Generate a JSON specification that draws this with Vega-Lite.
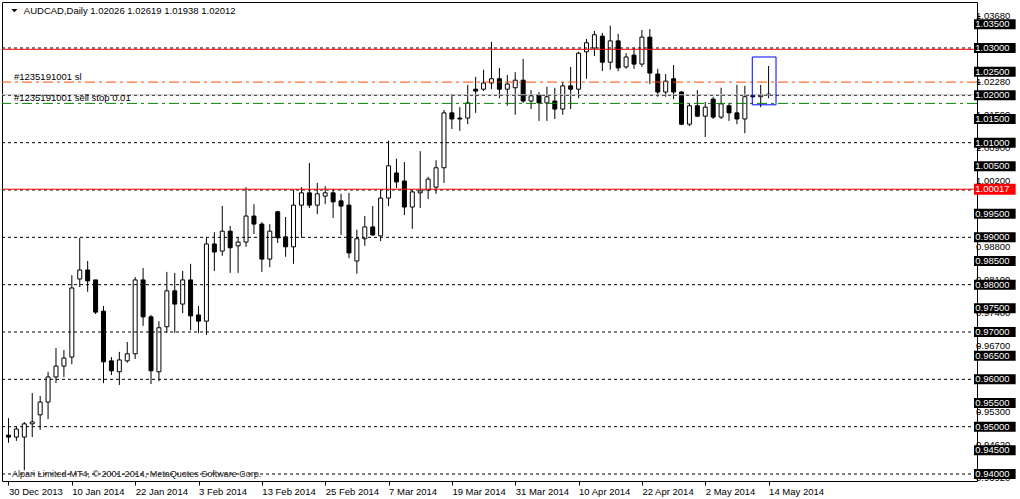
{
  "$schema": "https://vega.github.io/schema/vega-lite/v6.json",
  "width": 975,
  "height": 479,
  "autosize": {"type": "none"},
  "padding": {"left": 2, "top": 2, "right": 43, "bottom": 18},
  "background": "white",
  "config": {"view": {"stroke": "black", "strokeWidth": 1}, "axis": {"domain": false, "grid": false}},
  "data": {"values": [{}]},
  "datasets": {
    "candles": [
      {"i":0,"d":"2013-12-30","o":0.9482,"h":0.9518,"l":0.9466,"c":0.9478},
      {"i":1,"d":"2013-12-31","o":0.9478,"h":0.9501,"l":0.9470,"c":0.9495},
      {"i":2,"d":"2014-01-02","o":0.9478,"h":0.9510,"l":0.9408,"c":0.9506},
      {"i":3,"d":"2014-01-03","o":0.9506,"h":0.9571,"l":0.9478,"c":0.9510},
      {"i":4,"d":"2014-01-06","o":0.9525,"h":0.9565,"l":0.9493,"c":0.9552},
      {"i":5,"d":"2014-01-07","o":0.9552,"h":0.9616,"l":0.9516,"c":0.9605},
      {"i":6,"d":"2014-01-08","o":0.9605,"h":0.9666,"l":0.9592,"c":0.9628},
      {"i":7,"d":"2014-01-09","o":0.9628,"h":0.9662,"l":0.9605,"c":0.9645},
      {"i":8,"d":"2014-01-10","o":0.9647,"h":0.9820,"l":0.9632,"c":0.9793},
      {"i":9,"d":"2014-01-13","o":0.9812,"h":0.9899,"l":0.9795,"c":0.9831},
      {"i":10,"d":"2014-01-14","o":0.9831,"h":0.9850,"l":0.9785,"c":0.9808},
      {"i":11,"d":"2014-01-15","o":0.9810,"h":0.9810,"l":0.9738,"c":0.9742},
      {"i":12,"d":"2014-01-16","o":0.9744,"h":0.9755,"l":0.9592,"c":0.9637},
      {"i":13,"d":"2014-01-17","o":0.9639,"h":0.9647,"l":0.9609,"c":0.9618},
      {"i":14,"d":"2014-01-20","o":0.9616,"h":0.9658,"l":0.9588,"c":0.9641},
      {"i":15,"d":"2014-01-21","o":0.9639,"h":0.9679,"l":0.9635,"c":0.9654},
      {"i":16,"d":"2014-01-22","o":0.9654,"h":0.9816,"l":0.9643,"c":0.9810},
      {"i":17,"d":"2014-01-23","o":0.9810,"h":0.9835,"l":0.9713,"c":0.9732},
      {"i":18,"d":"2014-01-24","o":0.9732,"h":0.9736,"l":0.9590,"c":0.9618},
      {"i":19,"d":"2014-01-27","o":0.9616,"h":0.9723,"l":0.9596,"c":0.9709},
      {"i":20,"d":"2014-01-28","o":0.9711,"h":0.9827,"l":0.9698,"c":0.9787},
      {"i":21,"d":"2014-01-29","o":0.9787,"h":0.9825,"l":0.9698,"c":0.9759},
      {"i":22,"d":"2014-01-30","o":0.9759,"h":0.9829,"l":0.9740,"c":0.9810},
      {"i":23,"d":"2014-01-31","o":0.9810,"h":0.9844,"l":0.9704,"c":0.9734},
      {"i":24,"d":"2014-02-03","o":0.9736,"h":0.9755,"l":0.9698,"c":0.9723},
      {"i":25,"d":"2014-02-04","o":0.9723,"h":0.9899,"l":0.9694,"c":0.9886},
      {"i":26,"d":"2014-02-05","o":0.9886,"h":0.9911,"l":0.9829,"c":0.9869},
      {"i":27,"d":"2014-02-06","o":0.9871,"h":0.9966,"l":0.9861,"c":0.9913},
      {"i":28,"d":"2014-02-07","o":0.9913,"h":0.9924,"l":0.9825,"c":0.9878},
      {"i":29,"d":"2014-02-10","o":0.9882,"h":0.9899,"l":0.9825,"c":0.9890},
      {"i":30,"d":"2014-02-11","o":0.9890,"h":1.0006,"l":0.9880,"c":0.9945},
      {"i":31,"d":"2014-02-12","o":0.9945,"h":0.9970,"l":0.9907,"c":0.9928},
      {"i":32,"d":"2014-02-13","o":0.9928,"h":0.9932,"l":0.9827,"c":0.9854},
      {"i":33,"d":"2014-02-14","o":0.9854,"h":0.9928,"l":0.9837,"c":0.9913},
      {"i":34,"d":"2014-02-17","o":0.9954,"h":0.9956,"l":0.9888,"c":0.9899},
      {"i":35,"d":"2014-02-18","o":0.9901,"h":0.9943,"l":0.9859,"c":0.9880},
      {"i":36,"d":"2014-02-19","o":0.9880,"h":1.0000,"l":0.9844,"c":0.9968},
      {"i":37,"d":"2014-02-20","o":0.9968,"h":1.0006,"l":0.9899,"c":0.9994},
      {"i":38,"d":"2014-02-21","o":0.9994,"h":1.0057,"l":0.9962,"c":0.9968},
      {"i":39,"d":"2014-02-24","o":0.9968,"h":1.0015,"l":0.9949,"c":0.9992},
      {"i":40,"d":"2014-02-25","o":0.9987,"h":1.0008,"l":0.9970,"c":0.9994},
      {"i":41,"d":"2014-02-26","o":0.9994,"h":1.0002,"l":0.9941,"c":0.9975},
      {"i":42,"d":"2014-02-27","o":0.9977,"h":0.9992,"l":0.9905,"c":0.9966},
      {"i":43,"d":"2014-02-28","o":0.9968,"h":0.9994,"l":0.9856,"c":0.9867},
      {"i":44,"d":"2014-03-03","o":0.9850,"h":0.9916,"l":0.9823,"c":0.9897},
      {"i":45,"d":"2014-03-04","o":0.9897,"h":0.9945,"l":0.9882,"c":0.9922},
      {"i":46,"d":"2014-03-05","o":0.9922,"h":0.9966,"l":0.9903,"c":0.9905},
      {"i":47,"d":"2014-03-06","o":0.9903,"h":1.0000,"l":0.9892,"c":0.9983},
      {"i":48,"d":"2014-03-07","o":0.9983,"h":1.0104,"l":0.9966,"c":1.0051},
      {"i":49,"d":"2014-03-10","o":1.0036,"h":1.0066,"l":1.0004,"c":1.0017},
      {"i":50,"d":"2014-03-11","o":1.0019,"h":1.0059,"l":0.9947,"c":0.9964},
      {"i":51,"d":"2014-03-12","o":0.9964,"h":1.0000,"l":0.9918,"c":0.9996},
      {"i":52,"d":"2014-03-13","o":0.9994,"h":1.0082,"l":0.9962,"c":0.9998},
      {"i":53,"d":"2014-03-14","o":1.0000,"h":1.0028,"l":0.9981,"c":1.0023},
      {"i":54,"d":"2014-03-17","o":1.0006,"h":1.0063,"l":0.9992,"c":1.0047},
      {"i":55,"d":"2014-03-18","o":1.0047,"h":1.0169,"l":1.0015,"c":1.0163},
      {"i":56,"d":"2014-03-19","o":1.0163,"h":1.0203,"l":1.0129,"c":1.0150},
      {"i":57,"d":"2014-03-20","o":1.0152,"h":1.0175,"l":1.0125,"c":1.0150},
      {"i":58,"d":"2014-03-21","o":1.0152,"h":1.0222,"l":1.0139,"c":1.0184},
      {"i":59,"d":"2014-03-24","o":1.0213,"h":1.0239,"l":1.0163,"c":1.0209},
      {"i":60,"d":"2014-03-25","o":1.0213,"h":1.0254,"l":1.0209,"c":1.0226},
      {"i":61,"d":"2014-03-26","o":1.0226,"h":1.0313,"l":1.0213,"c":1.0235},
      {"i":62,"d":"2014-03-27","o":1.0235,"h":1.0258,"l":1.0194,"c":1.0213},
      {"i":63,"d":"2014-03-28","o":1.0213,"h":1.0243,"l":1.0178,"c":1.0224},
      {"i":64,"d":"2014-03-31","o":1.0216,"h":1.0249,"l":1.0159,"c":1.0232},
      {"i":65,"d":"2014-04-01","o":1.0232,"h":1.0277,"l":1.0184,"c":1.0188},
      {"i":66,"d":"2014-04-02","o":1.0188,"h":1.0211,"l":1.0171,"c":1.0199},
      {"i":67,"d":"2014-04-03","o":1.0201,"h":1.0207,"l":1.0146,"c":1.0184},
      {"i":68,"d":"2014-04-04","o":1.0184,"h":1.0218,"l":1.0146,"c":1.0197},
      {"i":69,"d":"2014-04-07","o":1.0188,"h":1.0216,"l":1.0150,"c":1.0171},
      {"i":70,"d":"2014-04-08","o":1.0171,"h":1.0228,"l":1.0159,"c":1.0220},
      {"i":71,"d":"2014-04-09","o":1.0220,"h":1.0260,"l":1.0171,"c":1.0213},
      {"i":72,"d":"2014-04-10","o":1.0213,"h":1.0292,"l":1.0194,"c":1.0289},
      {"i":73,"d":"2014-04-11","o":1.0292,"h":1.0319,"l":1.0235,"c":1.0311},
      {"i":74,"d":"2014-04-14","o":1.0300,"h":1.0336,"l":1.0283,"c":1.0328},
      {"i":75,"d":"2014-04-15","o":1.0325,"h":1.0332,"l":1.0251,"c":1.0270},
      {"i":76,"d":"2014-04-16","o":1.0270,"h":1.0347,"l":1.0254,"c":1.0315},
      {"i":77,"d":"2014-04-17","o":1.0315,"h":1.0330,"l":1.0251,"c":1.0258},
      {"i":78,"d":"2014-04-18","o":1.0260,"h":1.0289,"l":1.0256,"c":1.0281},
      {"i":79,"d":"2014-04-21","o":1.0285,"h":1.0300,"l":1.0256,"c":1.0266},
      {"i":80,"d":"2014-04-22","o":1.0266,"h":1.0338,"l":1.0260,"c":1.0323},
      {"i":81,"d":"2014-04-23","o":1.0323,"h":1.0340,"l":1.0224,"c":1.0247},
      {"i":82,"d":"2014-04-24","o":1.0245,"h":1.0256,"l":1.0197,"c":1.0207},
      {"i":83,"d":"2014-04-25","o":1.0207,"h":1.0245,"l":1.0197,"c":1.0230},
      {"i":84,"d":"2014-04-28","o":1.0235,"h":1.0264,"l":1.0192,"c":1.0207},
      {"i":85,"d":"2014-04-29","o":1.0207,"h":1.0209,"l":1.0137,"c":1.0139},
      {"i":86,"d":"2014-04-30","o":1.0139,"h":1.0184,"l":1.0135,"c":1.0178},
      {"i":87,"d":"2014-05-01","o":1.0178,"h":1.0211,"l":1.0154,"c":1.0156},
      {"i":88,"d":"2014-05-02","o":1.0156,"h":1.0186,"l":1.0112,"c":1.0175},
      {"i":89,"d":"2014-05-05","o":1.0192,"h":1.0197,"l":1.0150,"c":1.0154},
      {"i":90,"d":"2014-05-06","o":1.0154,"h":1.0216,"l":1.0150,"c":1.0182},
      {"i":91,"d":"2014-05-07","o":1.0178,"h":1.0184,"l":1.0146,"c":1.0163},
      {"i":92,"d":"2014-05-08","o":1.0163,"h":1.0222,"l":1.0139,"c":1.0150},
      {"i":93,"d":"2014-05-09","o":1.0150,"h":1.0220,"l":1.0120,"c":1.0197},
      {"i":94,"d":"2014-05-12","o":1.0200,"h":1.0202,"l":1.0195,"c":1.0197},
      {"i":95,"d":"2014-05-13","o":1.0197,"h":1.0222,"l":1.0175,"c":1.0201},
      {"i":96,"d":"2014-05-14","o":1.02026,"h":1.02619,"l":1.01938,"c":1.02012}
    ],
    "levels": [{"p":0.94},{"p":0.95},{"p":0.96},{"p":0.97},{"p":0.98},{"p":0.99},{"p":1.0},{"p":1.01},{"p":1.02},{"p":1.03}],
    "boxes": [
      {"p":0.94,"t":"0.94000"},{"p":0.945,"t":"0.94500"},{"p":0.95,"t":"0.95000"},{"p":0.955,"t":"0.95500"},
      {"p":0.96,"t":"0.96000"},{"p":0.965,"t":"0.96500"},{"p":0.97,"t":"0.97000"},{"p":0.975,"t":"0.97500"},
      {"p":0.98,"t":"0.98000"},{"p":0.985,"t":"0.98500"},{"p":0.99,"t":"0.99000"},{"p":0.995,"t":"0.99500"},
      {"p":1.005,"t":"1.00500"},{"p":1.01,"t":"1.01000"},{"p":1.015,"t":"1.01500"},{"p":1.02,"t":"1.02000"},
      {"p":1.025,"t":"1.02500"},{"p":1.03,"t":"1.03000"},{"p":1.035,"t":"1.03500"}
    ],
    "scalelabels": [
      {"p":1.0368,"t":"1.03680"},{"p":1.02286,"t":"1.02280"},{"p":1.01589,"t":"1.01590"},
      {"p":1.00892,"t":"1.00900"},{"p":1.00194,"t":"1.00200"},{"p":0.988,"t":"0.98800"},
      {"p":0.98103,"t":"0.98100"},{"p":0.97406,"t":"0.97400"},{"p":0.96709,"t":"0.96700"},
      {"p":0.95314,"t":"0.95300"},{"p":0.94617,"t":"0.94620"},{"p":0.9392,"t":"0.93920"}
    ]
  },
  "layer": [
    {
      "data": {"name": "candles"},
      "mark": {"type": "rule", "color": "black", "strokeWidth": 1},
      "encoding": {
        "x": {"field": "i", "type": "quantitative",
              "scale": {"domain": [-0.1875, 121.6875], "nice": false, "zero": false},
              "axis": {"orient": "bottom", "title": null, "values": [0,8,16,24,32,40,48,56,64,72,80,88,96],
                       "labelExpr": "['30 Dec 2013','10 Jan 2014','22 Jan 2014','3 Feb 2014','13 Feb 2014','25 Feb 2014','7 Mar 2014','19 Mar 2014','31 Mar 2014','10 Apr 2014','22 Apr 2014','2 May 2014','14 May 2014'][round(datum.value/8)]",
                       "labelAlign": "left", "labelBaseline": "top", "labelPadding": 1, "labelFont": "Liberation Sans", "labelFontSize": 9.5,
                       "labelColor": "black", "labelOverlap": false, "labelFlush": false, "labelBound": false,
                       "ticks": true, "tickSize": 4, "tickColor": "black", "tickWidth": 1, "domain": false, "grid": false}},
        "y": {"field": "l", "type": "quantitative",
              "scale": {"domain": [0.938521, 1.039718], "nice": false, "zero": false},
              "axis": {"orient": "right", "title": null, "values": [1.0368,1.02983,1.02286,1.01589,1.00892,1.00194,0.99497,0.988,0.98103,0.97406,0.96709,0.96011,0.95314,0.94617,0.9392],
                       "labels": false, "ticks": true, "tickSize": 3, "tickColor": "black", "domain": false, "grid": false}},
        "y2": {"field": "h"}
      }
    },
    {
      "data": {"name": "candles"},
      "mark": {"type": "bar", "size": 4, "stroke": "black", "strokeWidth": 1},
      "encoding": {
        "x": {"field": "i", "type": "quantitative"},
        "y": {"field": "o", "type": "quantitative"},
        "y2": {"field": "c"},
        "fill": {"condition": {"test": "datum.c < datum.o", "value": "black"}, "value": "white"}
      }
    },
    {
      "data": {"name": "levels"},
      "mark": {"type": "rule", "color": "black", "strokeWidth": 1, "strokeDash": [3, 3]},
      "encoding": {"y": {"field": "p", "type": "quantitative"}}
    },
    {
      "mark": {"type": "rule", "color": "#FF0000", "strokeWidth": 1},
      "encoding": {"y": {"datum": 1.02972, "type": "quantitative"}}
    },
    {
      "mark": {"type": "rule", "color": "#FF0000", "strokeWidth": 1},
      "encoding": {"y": {"datum": 1.00017, "type": "quantitative"}}
    },
    {
      "mark": {"type": "rule", "color": "#C0C0C0", "strokeWidth": 1},
      "encoding": {"y": {"datum": 1.02012, "type": "quantitative"}}
    },
    {
      "mark": {"type": "rule", "color": "#FF4500", "strokeWidth": 1, "strokeDash": [10, 4, 3, 4]},
      "encoding": {"y": {"datum": 1.0228, "type": "quantitative"}}
    },
    {
      "mark": {"type": "rule", "color": "#008000", "strokeWidth": 1, "strokeDash": [10, 4, 3, 4]},
      "encoding": {"y": {"datum": 1.0183, "type": "quantitative"}}
    },
    {
      "mark": {"type": "rect", "fill": null, "fillOpacity": 0, "stroke": "#0000FF", "strokeWidth": 1},
      "encoding": {
        "x": {"datum": 93.9375, "type": "quantitative"},
        "x2": {"datum": 96.9375},
        "y": {"datum": 1.0281, "type": "quantitative"},
        "y2": {"datum": 1.0180}
      }
    },
    {
      "mark": {"type": "point", "shape": "M-1,-0.55L1,-0.55L0,0.55Z", "filled": true, "color": "black", "size": 36, "opacity": 1},
      "encoding": {"x": {"datum": 0.75, "type": "quantitative"}, "y": {"datum": 1.03788, "type": "quantitative"}}
    },
    {
      "mark": {"type": "text", "text": "AUDCAD,Daily  1.02026 1.02619 1.01938 1.02012", "align": "left", "baseline": "middle", "font": "Liberation Sans", "fontSize": 9.5, "color": "black"},
      "encoding": {"x": {"datum": 1.9375, "type": "quantitative"}, "y": {"datum": 1.03792, "type": "quantitative"}}
    },
    {
      "mark": {"type": "text", "text": "#1235191001 sl", "align": "left", "baseline": "alphabetic", "dy": -2.5, "font": "Liberation Sans", "fontSize": 9.5, "color": "black"},
      "encoding": {"x": {"datum": 0.6875, "type": "quantitative"}, "y": {"datum": 1.0228, "type": "quantitative"}}
    },
    {
      "mark": {"type": "text", "text": "#1235191001 sell stop 0.01", "align": "left", "baseline": "alphabetic", "dy": -2.5, "font": "Liberation Sans", "fontSize": 9.5, "color": "black"},
      "encoding": {"x": {"datum": 0.6875, "type": "quantitative"}, "y": {"datum": 1.0183, "type": "quantitative"}}
    },
    {
      "mark": {"type": "text", "text": "Alpari Limited-MT4, © 2001-2014, MetaQuotes Software Corp.", "align": "left", "baseline": "middle", "font": "Liberation Sans", "fontSize": 9, "color": "#202020"},
      "encoding": {"x": {"datum": 0.4375, "type": "quantitative"}, "y": {"datum": 0.94, "type": "quantitative"}}
    },
    {
      "data": {"name": "scalelabels"},
      "mark": {"type": "text", "align": "left", "baseline": "middle", "font": "Liberation Sans", "fontSize": 9.5, "color": "black"},
      "encoding": {"x": {"datum": 122.2, "type": "quantitative"}, "y": {"field": "p", "type": "quantitative"}, "text": {"field": "t"}}
    },
    {
      "data": {"name": "boxes"},
      "mark": {"type": "rule", "color": "black", "strokeWidth": 10, "strokeCap": "butt"},
      "encoding": {"x": {"datum": 121.94, "type": "quantitative"}, "x2": {"datum": 127.2}, "y": {"field": "p", "type": "quantitative"}}
    },
    {
      "data": {"name": "boxes"},
      "mark": {"type": "text", "align": "left", "baseline": "middle", "font": "Liberation Sans", "fontSize": 9.5, "color": "white"},
      "encoding": {"x": {"datum": 122.1, "type": "quantitative"}, "y": {"field": "p", "type": "quantitative"}, "text": {"field": "t"}}
    },
    {
      "mark": {"type": "rule", "color": "#FF0000", "strokeWidth": 11, "strokeCap": "butt"},
      "encoding": {"x": {"datum": 121.94, "type": "quantitative"}, "x2": {"datum": 127.2}, "y": {"datum": 1.00017, "type": "quantitative"}}
    },
    {
      "mark": {"type": "text", "text": "1.00017", "align": "left", "baseline": "middle", "font": "Liberation Sans", "fontSize": 9.5, "color": "white"},
      "encoding": {"x": {"datum": 122.1, "type": "quantitative"}, "y": {"datum": 1.00017, "type": "quantitative"}}
    }
  ]
}
